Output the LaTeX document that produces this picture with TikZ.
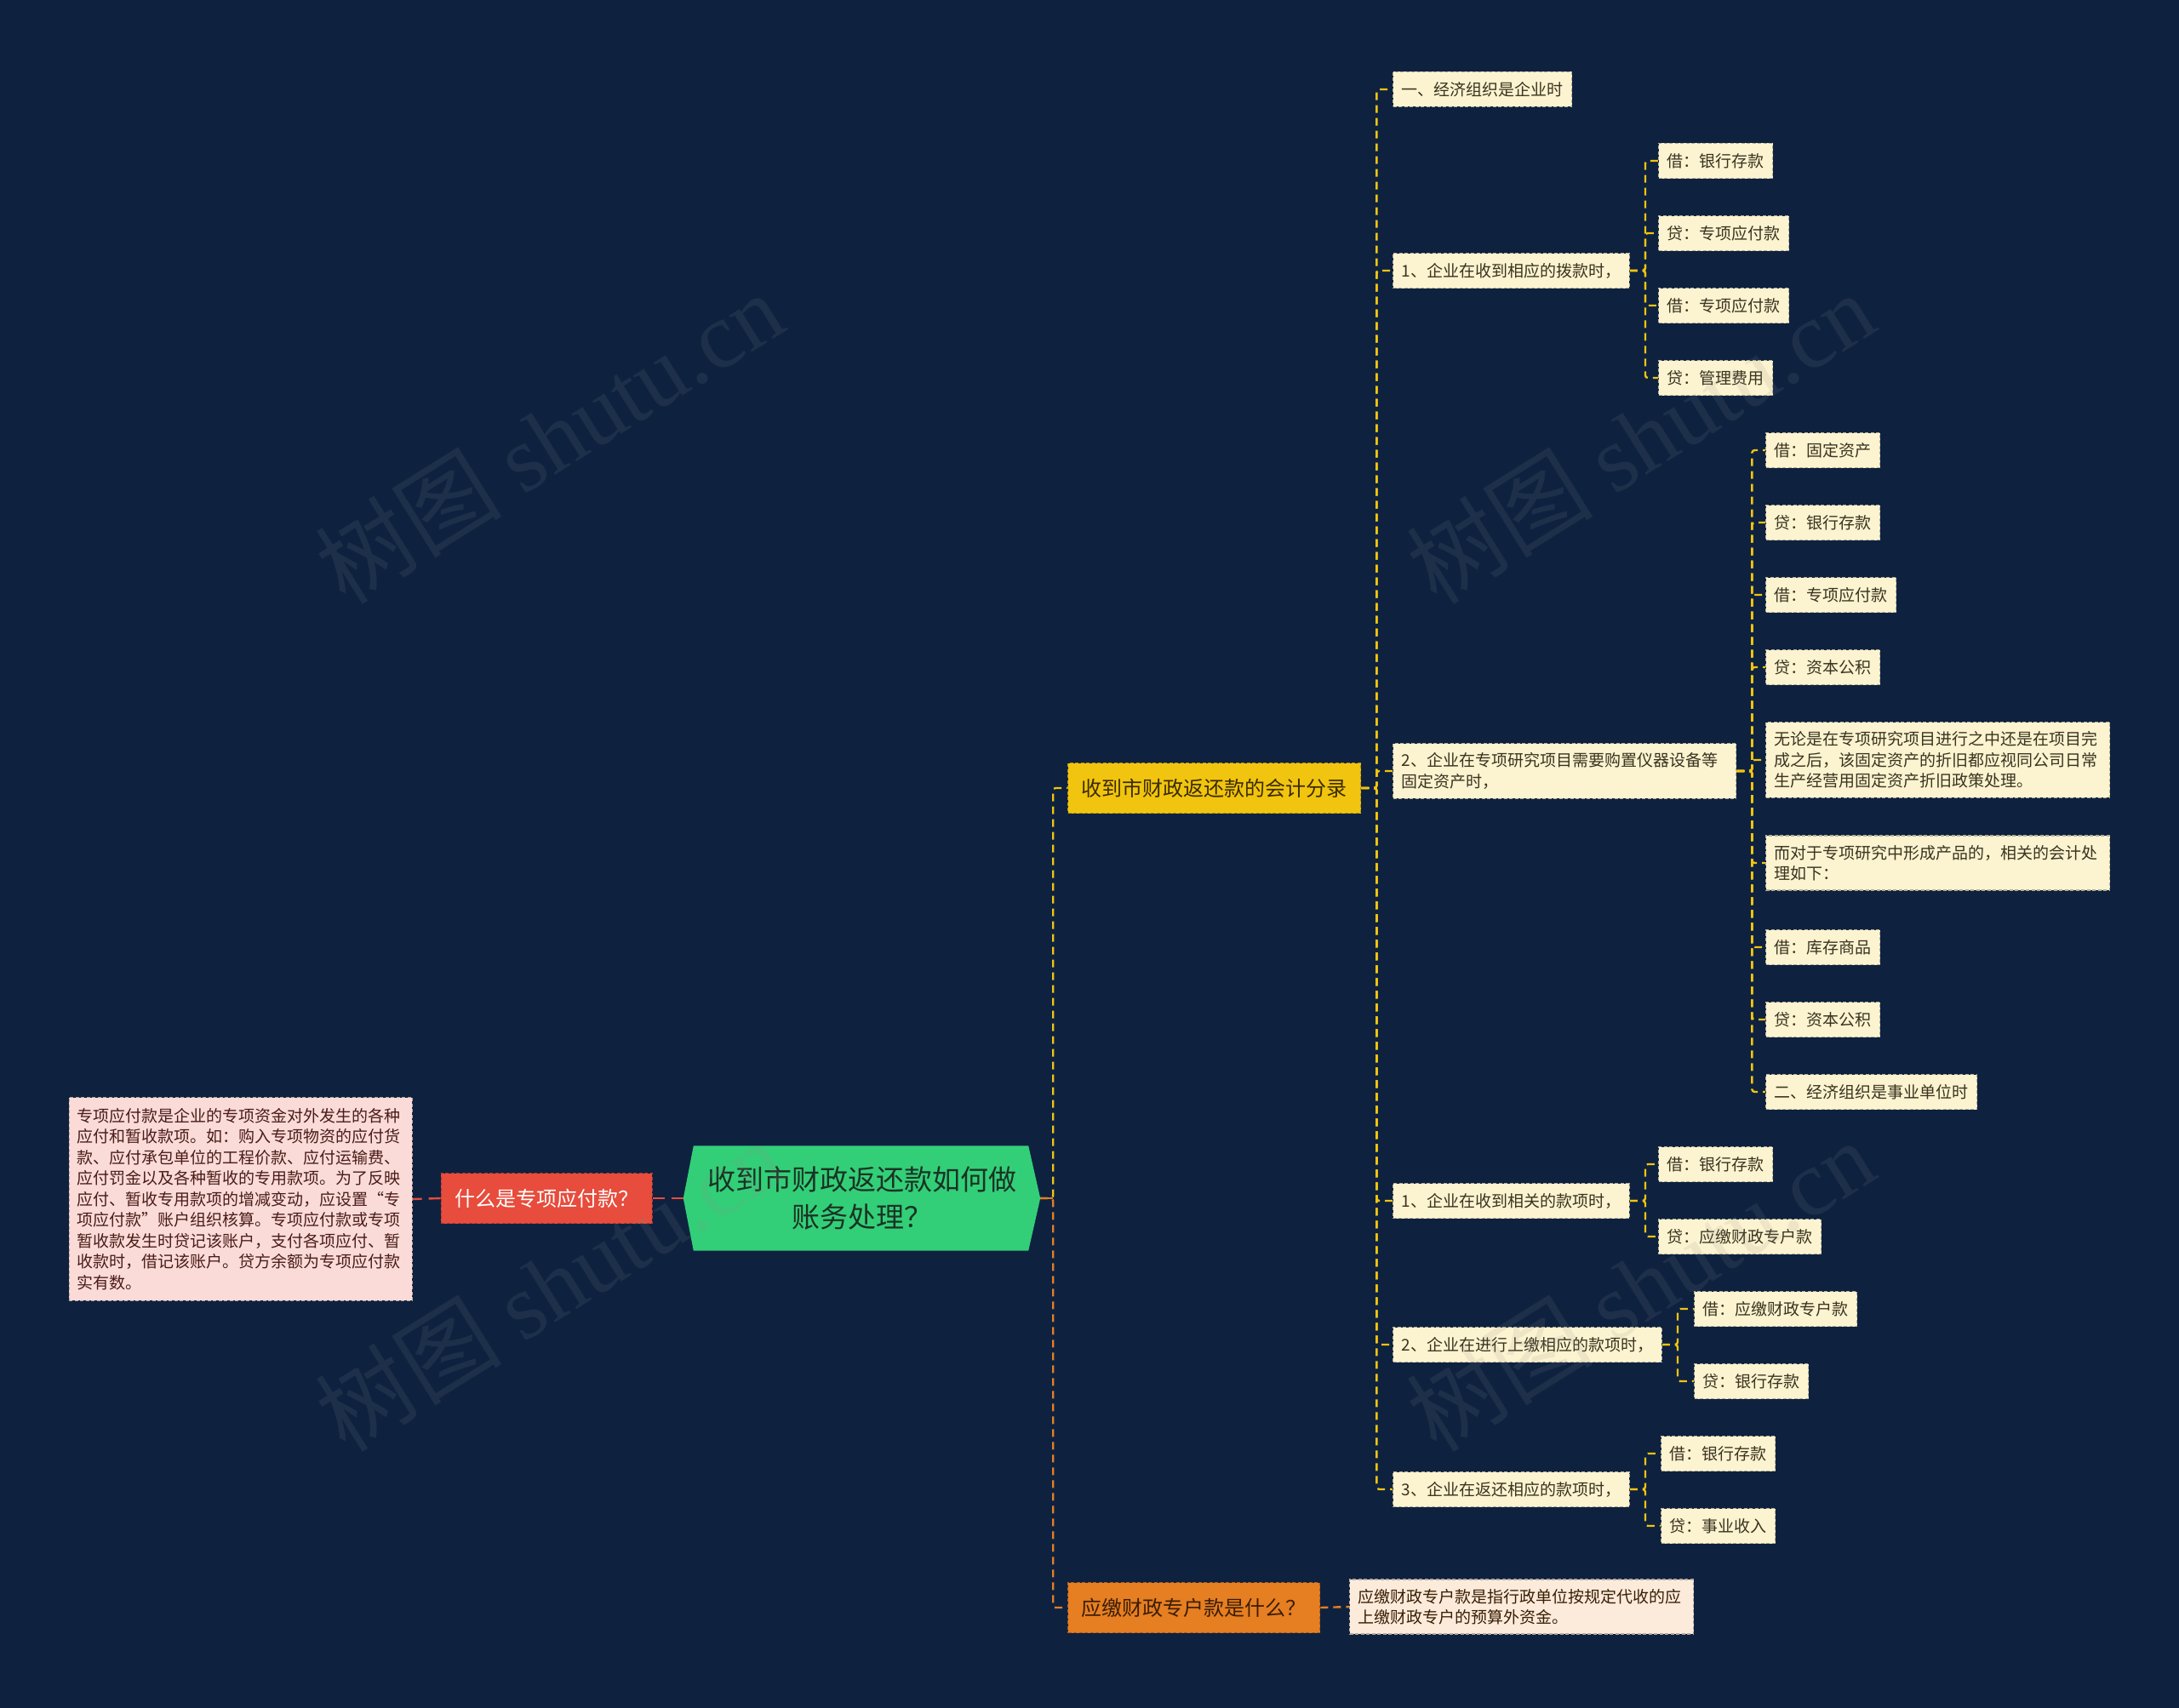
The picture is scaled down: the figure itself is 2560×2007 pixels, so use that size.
\documentclass[tikz,border=0pt]{standalone}
\usepackage{fontspec}
\setmainfont{Noto Sans CJK SC}
\newfontfamily\wmserif{Liberation Serif}
\definecolor{bgc}{HTML}{0E2240}
\definecolor{rootc}{HTML}{33CF78}
\definecolor{roottext}{HTML}{1A3324}
\definecolor{redc}{HTML}{E74C3C}
\definecolor{pinkc}{HTML}{FADBD8}
\definecolor{pinktext}{HTML}{4A1C17}
\definecolor{yelc}{HTML}{F1C40F}
\definecolor{yeltext}{HTML}{3A2C00}
\definecolor{orgc}{HTML}{E67E22}
\definecolor{orgtext}{HTML}{3A1E05}
\definecolor{orgdesc}{HTML}{FCEBDB}
\definecolor{cream}{HTML}{FCF3D0}
\definecolor{leaftext}{HTML}{3A3320}
\definecolor{wmc}{HTML}{8A8A8A}
\pgfdeclarelayer{backdrop}
\pgfdeclarelayer{shapes}
\pgfsetlayers{backdrop,shapes,main}
\begin{document}
\begin{tikzpicture}[x=1pt,y=-1pt,
  leaf/.style={draw=cream!72!black, fill=cream, dash pattern=on 4pt off 2.5pt, line width=1.4pt,
    text=leaftext, font=\fontsize{19}{24.5}\selectfont, inner xsep=10pt, inner ysep=11pt,
    minimum height=41pt, anchor=west, align=left},
  wide/.style={text width=384pt},
  lvlone/.style={dash pattern=on 4pt off 2.5pt, line width=1.4pt,
    font=\fontsize{24}{30}\selectfont, inner xsep=16pt, inner ysep=10pt, minimum height=59pt},
  ylink/.style={draw=yelc, line width=2.4pt, dash pattern=on 9pt off 6pt, rounded corners=3pt},
  olink/.style={draw=orgc, line width=2.4pt, dash pattern=on 9pt off 6pt, rounded corners=3pt},
  rlink/.style={draw=redc, line width=2.4pt, dash pattern=on 14pt off 8pt},
  wm/.style={text=wmc, opacity=0.13, font=\fontsize{110}{120}\selectfont, inner sep=0pt}
]
\begin{pgfonlayer}{backdrop}
\fill[bgc] (0,0) rectangle (2560,2007);
\end{pgfonlayer}
\useasboundingbox (0,0) rectangle (2560,2007);

% root
\node[inner sep=0pt, minimum width=419pt, minimum height=123pt, align=center, text=roottext,
  font=\fontsize{33}{44}\selectfont] (root) at (1012.5,1408) {收到市财政返还款如何做\\账务处理？};
\begin{pgfonlayer}{shapes}
\fill[rootc] (root.west) -- ([xshift=12pt]root.north west) -- ([xshift=-14pt]root.north east)
  -- (root.east) -- ([xshift=-14pt]root.south east) -- ([xshift=12pt]root.south west) -- cycle;
\end{pgfonlayer}

% left branch
\node[lvlone, draw=redc!75!black, fill=redc, text=white, anchor=east] (red) at (767,1408) {什么是专项应付款？};
\node[leaf, wide, draw=pinkc!75!black, fill=pinkc, text=pinktext, inner xsep=9.5pt, inner ysep=12.5pt, anchor=east] (pink) at (485,1409)
{专项应付款是企业的专项资金对外发生的各种\\应付和暂收款项。如：购入专项物资的应付货\\款、应付承包单位的工程价款、应付运输费、\\应付罚金以及各种暂收的专用款项。为了反映\\应付、暂收专用款项的增减变动，应设置“专\\项应付款”账户组织核算。专项应付款或专项\\暂收款发生时贷记该账户，支付各项应付、暂\\收款时，借记该账户。贷方余额为专项应付款\\实有数。};

% right level one
\node[lvlone, draw=yelc!75!black, fill=yelc, text=yeltext, anchor=west] (yel) at (1254,926) {收到市财政返还款的会计分录};
\node[lvlone, draw=orgc!75!black, fill=orgc, text=orgtext, anchor=west] (org) at (1254,1889) {应缴财政专户款是什么？};
\node[leaf, wide, draw=orgdesc!72!black, fill=orgdesc, text=orgtext, anchor=west] (odesc) at (1585,1888)
{应缴财政专户款是指行政单位按规定代收的应\\上缴财政专户的预算外资金。};

% level two
\node[leaf] (a) at (1636,105) {一、经济组织是企业时};
\node[leaf] (b) at (1636,318) {1、企业在收到相应的拨款时，};
\node[leaf, text width=383pt] (c) at (1636,906) {2、企业在专项研究项目需要购置仪器设备等\\固定资产时，};
\node[leaf] (d) at (1636,1411) {1、企业在收到相关的款项时，};
\node[leaf] (e) at (1636,1580) {2、企业在进行上缴相应的款项时，};
\node[leaf] (f) at (1636,1750) {3、企业在返还相应的款项时，};

% level three
\node[leaf] (b1) at (1948,189) {借：银行存款};
\node[leaf] (b2) at (1948,274) {贷：专项应付款};
\node[leaf] (b3) at (1948,359) {借：专项应付款};
\node[leaf] (b4) at (1948,444) {贷：管理费用};

\node[leaf] (c1) at (2074,529) {借：固定资产};
\node[leaf] (c2) at (2074,614) {贷：银行存款};
\node[leaf] (c3) at (2074,699) {借：专项应付款};
\node[leaf] (c4) at (2074,784) {贷：资本公积};
\node[leaf, wide] (c5) at (2074,893) {无论是在专项研究项目进行之中还是在项目完\\成之后，该固定资产的折旧都应视同公司日常\\生产经营用固定资产折旧政策处理。};
\node[leaf, wide] (c6) at (2074,1014) {而对于专项研究中形成产品的，相关的会计处\\理如下：};
\node[leaf] (c7) at (2074,1113) {借：库存商品};
\node[leaf] (c8) at (2074,1198) {贷：资本公积};
\node[leaf] (c9) at (2074,1283) {二、经济组织是事业单位时};

\node[leaf] (d1) at (1948,1368) {借：银行存款};
\node[leaf] (d2) at (1948,1453) {贷：应缴财政专户款};
\node[leaf] (e1) at (1990,1538) {借：应缴财政专户款};
\node[leaf] (e2) at (1990,1623) {贷：银行存款};
\node[leaf] (f1) at (1951,1708) {借：银行存款};
\node[leaf] (f2) at (1951,1793) {贷：事业收入};

% connectors
\begin{pgfonlayer}{shapes}
\draw[rlink] (root.west) -- (red.east);
\draw[rlink] (red.west) -- (pink.east);
\draw[ylink] (root.east) -- ++(15,0) |- (yel.west);
\draw[olink] (root.east) -- ++(15,0) |- (org.west);
\draw[draw=orgc, line width=2.4pt] (root.east) -- ++(15,0);
\draw[olink] (org.east) -- (odesc.west);
\foreach \n in {a,b,c,d,e,f} \draw[ylink] (yel.east) -- ++(18,0) |- (\n.west);
\foreach \n in {b1,b2,b3,b4} \draw[ylink] (b.east) -- ++(18,0) |- (\n.west);
\foreach \n in {c1,c2,c3,c4,c5,c6,c7,c8,c9} \draw[ylink] (c.east) -- ++(18,0) |- (\n.west);
\foreach \n in {d1,d2} \draw[ylink] (d.east) -- ++(18,0) |- (\n.west);
\foreach \n in {e1,e2} \draw[ylink] (e.east) -- ++(18,0) |- (\n.west);
\foreach \n in {f1,f2} \draw[ylink] (f.east) -- ++(18,0) |- (\n.west);
\end{pgfonlayer}

% watermarks
\node[wm, rotate=32] (w1) at (645,514) {树图 {\wmserif shutu.cn}};
\node[wm, rotate=32] (w2) at (1927,514) {树图 {\wmserif shutu.cn}};
\node[wm, rotate=32] (w3) at (645,1510) {树图 {\wmserif shutu.cn}};
\node[wm, rotate=32] (w4) at (1927,1510) {树图 {\wmserif shutu.cn}};
\end{tikzpicture}
\end{document}
